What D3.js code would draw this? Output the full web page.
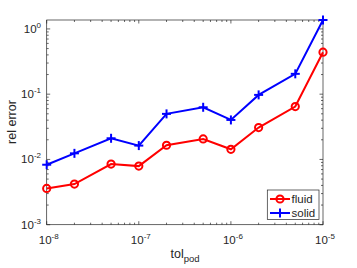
<!DOCTYPE html>
<html><head><meta charset="utf-8">
<script src="https://cdn.jsdelivr.net/npm/d3@7"></script>
<style>body{margin:0;background:#fff}svg{display:block}text{font-family:"Liberation Sans",Arial,sans-serif;fill:#262626}</style>
</head><body><svg id="c" width="357" height="268"></svg>
<script>
const tolValues = [1e-8, 2e-8, 5e-8, 1e-7, 2e-7, 5e-7, 1e-6, 2e-6, 5e-6, 1e-5];
const fluidErr = [0.0036, 0.0042, 0.0085, 0.0079, 0.0165, 0.0206, 0.0143, 0.0308, 0.0646, 0.44];
const solidErr = [0.0083, 0.0124, 0.0211, 0.0163, 0.0499, 0.063, 0.0403, 0.0975, 0.205, 1.37];
const xTickExps = [-8, -7, -6, -5];
const yTickExps = [-3, -2, -1, 0];
const seriesNames = ["fluid", "solid"];

const svg = d3.select("#c");
const L = 46.7, R = 323, T = 20, B = 224.7;
const x = d3.scaleLog().domain([1e-8, 1e-5]).range([L, R]);
const y = d3.scaleLog().domain([1e-3, 1.37]).range([B, T]);
const axisCol = "#262626";

// box
svg.append("rect").attr("x", L).attr("y", T).attr("width", R - L).attr("height", B - T)
  .attr("fill", "none").attr("stroke", axisCol).attr("stroke-width", 0.7);

// minor & major ticks
const xMinor = [], yMinor = [];
for (let e = -8; e < -5; e++) for (let m = 2; m <= 9; m++) xMinor.push(m * Math.pow(10, e));
for (let e = -3; e <= 0; e++) for (let m = 2; m <= 9; m++) { const v = m * Math.pow(10, e); if (v <= 1.37) yMinor.push(v); }
const tg = svg.append("g").attr("stroke", axisCol).attr("stroke-width", 0.7);
xMinor.forEach(v => { const px = x(v);
  tg.append("line").attr("x1", px).attr("x2", px).attr("y1", B).attr("y2", B - 2);
  tg.append("line").attr("x1", px).attr("x2", px).attr("y1", T).attr("y2", T + 2); });
yMinor.forEach(v => { const py = y(v);
  tg.append("line").attr("x1", L).attr("x2", L + 2).attr("y1", py).attr("y2", py);
  tg.append("line").attr("x1", R).attr("x2", R - 2).attr("y1", py).attr("y2", py); });
xTickExps.forEach(e => { const px = x(Math.pow(10, e));
  tg.append("line").attr("x1", px).attr("x2", px).attr("y1", B).attr("y2", B - 3.5);
  tg.append("line").attr("x1", px).attr("x2", px).attr("y1", T).attr("y2", T + 3.5); });
yTickExps.forEach(e => { const py = y(Math.pow(10, e));
  tg.append("line").attr("x1", L).attr("x2", L + 3.5).attr("y1", py).attr("y2", py);
  tg.append("line").attr("x1", R).attr("x2", R - 3.5).attr("y1", py).attr("y2", py); });

// tick labels
xTickExps.forEach(e => {
  const t = svg.append("text").attr("x", x(Math.pow(10, e)) + 2).attr("y", 243.5)
    .attr("text-anchor", "middle").attr("font-size", 11.5);
  t.append("tspan").text("10");
  t.append("tspan").attr("dy", -5).attr("font-size", 8).text(e);
});
yTickExps.forEach(e => {
  const t = svg.append("text").attr("x", 41).attr("y", y(Math.pow(10, e)) + 4)
    .attr("text-anchor", "end").attr("font-size", 11.5);
  t.append("tspan").text("10");
  t.append("tspan").attr("dy", -5).attr("font-size", 8).text(e);
});

// axis labels
const xl = svg.append("text").attr("x", 185).attr("y", 258).attr("text-anchor", "middle").attr("font-size", 12.5);
xl.append("tspan").text("tol");
xl.append("tspan").attr("dy", 4).attr("font-size", 9.5).text("pod");
svg.append("text").attr("transform", "translate(16,122) rotate(-90)")
  .attr("text-anchor", "middle").attr("font-size", 12.5).text("rel error");

// series
const line = d3.line().x(d => x(d[0])).y(d => y(d[1]));
const fluid = tolValues.map((t, i) => [t, fluidErr[i]]);
const solid = tolValues.map((t, i) => [t, solidErr[i]]);
function plus(g, cx, cy, s) {
  g.append("line").attr("x1", cx - s).attr("x2", cx + s).attr("y1", cy).attr("y2", cy);
  g.append("line").attr("x1", cx).attr("x2", cx).attr("y1", cy - s).attr("y2", cy + s);
}
svg.append("path").attr("d", line(fluid)).attr("fill", "none").attr("stroke", "#ff0000").attr("stroke-width", 2);
svg.append("g").selectAll("circle").data(fluid).join("circle")
  .attr("cx", d => x(d[0])).attr("cy", d => y(d[1])).attr("r", 3.6)
  .attr("fill", "none").attr("stroke", "#ff0000").attr("stroke-width", 2);
svg.append("path").attr("d", line(solid)).attr("fill", "none").attr("stroke", "#0000ff").attr("stroke-width", 2);
const pg = svg.append("g").attr("stroke", "#0000ff").attr("stroke-width", 2);
solid.forEach(d => plus(pg, x(d[0]), y(d[1]), 4.5));

// legend
const lg = svg.append("g");
lg.append("rect").attr("x", 267.3).attr("y", 190).attr("width", 51.7).attr("height", 29.5)
  .attr("fill", "#fff").attr("stroke", axisCol).attr("stroke-width", 0.7);
const cols = ["#ff0000", "#0000ff"];
seriesNames.forEach((n, i) => {
  const ly = 199 + i * 14;
  lg.append("line").attr("x1", 270).attr("x2", 290).attr("y1", ly).attr("y2", ly).attr("stroke", cols[i]).attr("stroke-width", 2);
  if (i === 0) lg.append("circle").attr("cx", 280).attr("cy", ly).attr("r", 3.6).attr("fill", "none").attr("stroke", cols[i]).attr("stroke-width", 2);
  else { const g2 = lg.append("g").attr("stroke", cols[i]).attr("stroke-width", 2); plus(g2, 280, ly, 4.5); }
  lg.append("text").attr("x", 291.5).attr("y", ly + 4).attr("font-size", 11.5).text(n);
});
</script></body></html>
